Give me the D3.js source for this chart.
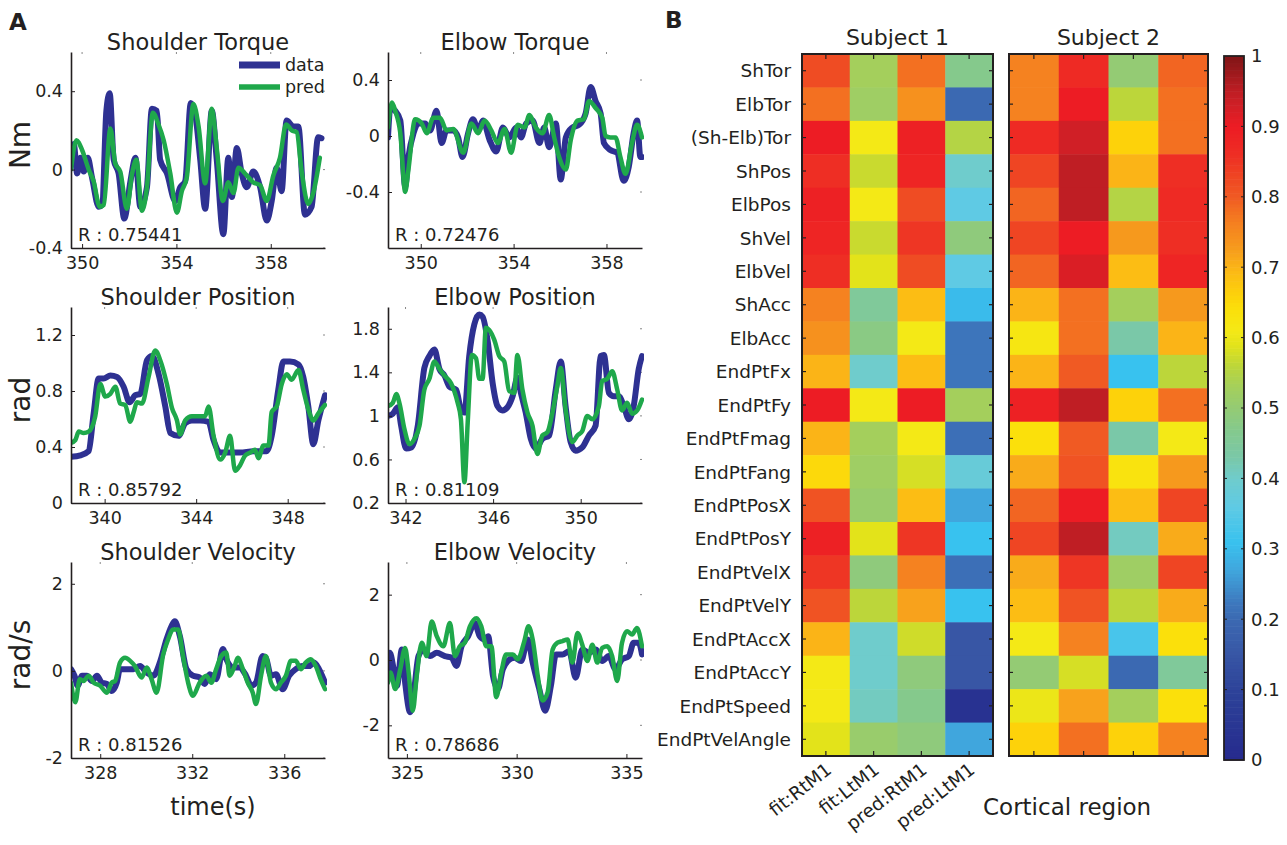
<!DOCTYPE html>
<html>
<head>
<meta charset="utf-8">
<script src="https://cdn.jsdelivr.net/npm/d3@7"></script>
<style>
  body { margin: 0; background: #fff; }
  text { font-family: 'DejaVu Sans', sans-serif; fill: #231f20; }
</style>
</head>
<body>
<div id="chart"></div>
<script>
// ---- panel A: time series ([time s, value]) ----
const shTorData = [[349.53,0.03],[349.65,0.13],[349.79,-0.02],[349.93,0.06],[350.07,-0.01],[350.24,0.06],[350.42,-0.04],[350.71,-0.19],[350.85,-0.18],[351.03,0.30],[351.17,0.39],[351.34,0.05],[351.55,-0.02],[351.79,-0.25],[352.05,-0.06],[352.26,0.06],[352.47,-0.19],[352.75,-0.09],[352.96,0.31],[353.17,0.30],[353.31,0.05],[353.6,-0.02],[353.95,-0.16],[354.16,-0.09],[354.37,-0.06],[354.61,0.34],[354.8,0.28],[355.01,0.05],[355.22,-0.2],[355.5,0.30],[355.71,0.05],[355.99,-0.33],[356.2,0.06],[356.35,-0.14],[356.56,0.11],[356.77,-0.02],[356.98,-0.09],[357.26,-0.01],[357.55,-0.09],[357.83,-0.26],[358.04,-0.16],[358.25,0.01],[358.46,-0.11],[358.67,0.25],[358.96,0.22],[359.17,0.22],[359.45,-0.23],[359.73,-0.19],[360.01,0.165],[360.15,0.16]]
const shTorPred = [[349.53,0.0],[349.76,0.15],[350.0,0.1],[350.28,0.0],[350.49,-0.06],[350.75,-0.19],[350.92,-0.18],[351.2,0.21],[351.41,0.03],[351.62,-0.01],[351.9,-0.2],[352.12,-0.02],[352.3,0.05],[352.54,-0.21],[352.75,-0.09],[353.0,0.29],[353.24,0.23],[353.46,0.15],[353.74,-0.02],[354.02,-0.22],[354.23,-0.11],[354.44,-0.04],[354.72,0.335],[354.94,0.22],[355.22,-0.07],[355.5,0.31],[355.71,0.11],[355.97,-0.16],[356.2,-0.065],[356.42,-0.12],[356.63,0.01],[356.91,-0.02],[357.26,-0.065],[357.55,-0.08],[357.83,-0.16],[358.11,-0.03],[358.39,0.06],[358.65,0.23],[358.89,0.2],[359.1,0.19],[359.31,-0.01],[359.59,-0.175],[359.8,-0.12],[360.08,0.06]]

const elbTorData = [[348.59,-0.01],[348.69,0.2],[348.9,0.18],[349.12,0.11],[349.33,-0.36],[349.47,-0.15],[349.69,0.02],[349.9,0.09],[350.19,0.09],[350.4,0.04],[350.68,0.18],[350.9,-0.05],[351.11,0.04],[351.4,0.04],[351.61,-0.01],[351.8,-0.15],[352.04,0.02],[352.25,0.12],[352.47,0.04],[352.68,0.11],[352.97,-0.03],[353.25,-0.11],[353.54,0.06],[353.82,-0.01],[354.11,0.06],[354.32,-0.01],[354.54,0.09],[354.82,0.11],[355.11,-0.05],[355.32,0.06],[355.53,-0.08],[355.82,0.09],[356.03,-0.31],[356.25,-0.01],[356.53,0.06],[356.82,0.08],[357.1,0.16],[357.32,0.35],[357.53,0.25],[357.75,0.16],[357.89,-0.05],[358.17,-0.1],[358.46,-0.12],[358.74,-0.32],[358.96,-0.22],[359.17,0.02],[359.32,0.11],[359.46,-0.15],[359.53,-0.15]]
const elbTorPred = [[348.59,0.06],[348.76,0.24],[348.9,0.18],[349.12,0.02],[349.33,-0.4],[349.47,-0.24],[349.76,0.12],[350.04,0.09],[350.26,0.02],[350.54,0.13],[350.83,0.13],[351.11,0.04],[351.4,0.05],[351.83,-0.12],[352.18,0.09],[352.47,0.02],[352.75,0.11],[353.04,0.04],[353.32,-0.05],[353.61,0.05],[353.89,-0.12],[354.18,0.08],[354.47,0.06],[354.68,0.15],[354.96,0.06],[355.25,0.02],[355.53,0.15],[355.75,-0.01],[355.96,-0.15],[356.25,-0.24],[356.46,-0.03],[356.75,0.11],[357.03,0.12],[357.25,0.25],[357.53,0.2],[357.82,0.13],[357.96,0.0],[358.17,-0.01],[358.39,-0.01],[358.6,-0.15],[358.82,-0.27],[359.1,-0.05],[359.32,0.08],[359.53,-0.01]]

const shPosData = [[338.53,0.33],[338.94,0.34],[339.3,0.37],[339.52,0.64],[339.74,0.89],[339.96,0.89],[340.25,0.91],[340.54,0.9],[340.83,0.83],[341.09,0.72],[341.34,0.77],[341.56,0.78],[341.85,1.02],[342.07,1.05],[342.36,0.92],[342.65,0.69],[342.87,0.5],[343.23,0.48],[343.52,0.57],[343.81,0.59],[344.17,0.59],[344.54,0.58],[344.76,0.45],[345.05,0.36],[345.48,0.36],[345.92,0.36],[346.5,0.37],[347.08,0.37],[347.3,0.48],[347.59,0.81],[347.81,1.01],[348.1,1.01],[348.47,0.99],[348.68,0.9],[348.9,0.69],[349.12,0.42],[349.34,0.59],[349.63,0.77]]
const shPosPred = [[338.53,0.43],[338.72,0.45],[338.87,0.51],[339.08,0.5],[339.3,0.51],[339.59,0.62],[339.81,0.85],[340.03,0.76],[340.25,0.78],[340.47,0.83],[340.68,0.71],[340.9,0.7],[341.12,0.58],[341.27,0.65],[341.41,0.72],[341.63,0.71],[341.92,0.9],[342.21,1.09],[342.43,1.02],[342.72,0.85],[342.94,0.68],[343.16,0.59],[343.3,0.49],[343.52,0.59],[343.81,0.62],[344.1,0.62],[344.39,0.62],[344.54,0.69],[344.76,0.48],[345.05,0.31],[345.27,0.36],[345.48,0.48],[345.7,0.23],[345.92,0.27],[346.14,0.34],[346.36,0.36],[346.57,0.38],[346.72,0.32],[346.94,0.41],[347.16,0.41],[347.3,0.65],[347.52,0.69],[347.74,0.85],[347.96,0.92],[348.17,0.88],[348.47,0.95],[348.68,0.81],[348.9,0.67],[349.12,0.59],[349.34,0.64],[349.63,0.7]]

const elbPosData = [[341.2,1.0],[341.42,1.02],[341.65,1.08],[341.8,0.91],[342.03,0.7],[342.26,0.71],[342.56,0.91],[342.86,1.44],[343.09,1.55],[343.32,1.61],[343.55,1.43],[343.78,1.37],[344.0,1.27],[344.31,1.24],[344.53,1.06],[344.69,1.03],[344.91,1.55],[345.14,1.84],[345.37,1.93],[345.52,1.91],[345.75,1.69],[345.98,1.3],[346.2,1.09],[346.43,1.05],[346.66,1.08],[346.89,1.18],[347.11,1.35],[347.27,1.21],[347.49,1.03],[347.72,0.79],[347.95,0.7],[348.25,0.79],[348.56,0.82],[348.86,1.24],[349.09,1.5],[349.31,1.09],[349.54,0.76],[349.77,0.68],[350.07,0.71],[350.38,0.82],[350.68,0.91],[350.91,1.55],[351.06,1.56],[351.29,1.21],[351.51,1.18],[351.74,1.18],[351.97,1.09],[352.2,0.97],[352.42,1.09],[352.65,1.43],[352.8,1.55]]
const elbPosPred = [[341.2,1.09],[341.42,1.12],[341.58,1.2],[341.73,1.11],[341.95,0.88],[342.18,0.74],[342.41,0.79],[342.64,0.91],[342.86,1.24],[343.09,1.34],[343.32,1.5],[343.55,1.43],[343.78,1.37],[344.08,1.3],[344.38,1.12],[344.53,0.97],[344.69,0.39],[344.84,0.94],[345.03,1.56],[345.22,1.53],[345.37,1.34],[345.52,1.34],[345.67,1.81],[345.82,1.79],[346.05,1.7],[346.28,1.55],[346.51,1.5],[346.73,1.23],[346.96,1.21],[347.11,1.56],[347.34,1.24],[347.57,1.03],[347.8,0.91],[348.02,0.65],[348.25,0.82],[348.48,0.85],[348.71,1.03],[348.93,1.27],[349.09,1.44],[349.31,1.06],[349.62,0.76],[349.85,0.82],[350.07,0.86],[350.3,1.0],[350.53,0.97],[350.83,1.09],[350.98,1.32],[351.21,1.34],[351.44,1.41],[351.67,1.24],[351.89,1.05],[352.12,1.12],[352.35,1.02],[352.58,1.05],[352.8,1.15]]

const shVelData = [[326.73,0.04],[326.88,-0.11],[327.02,-0.34],[327.21,-0.11],[327.42,-0.11],[327.64,-0.23],[327.86,-0.11],[328.07,-0.27],[328.29,-0.3],[328.5,-0.46],[328.72,-0.27],[328.86,0.04],[329.15,0.04],[329.44,0.04],[329.73,0.11],[330.02,-0.04],[330.31,-0.11],[330.59,0.19],[330.88,0.72],[331.1,1.03],[331.24,1.14],[331.46,0.8],[331.75,0.04],[332.03,-0.11],[332.32,-0.15],[332.54,-0.3],[332.76,-0.08],[333.04,-0.19],[333.33,0.5],[333.48,0.27],[333.76,0.08],[334.05,0.08],[334.34,-0.11],[334.56,-0.34],[334.77,-0.27],[335.06,0.34],[335.2,0.3],[335.42,-0.11],[335.64,-0.08],[335.93,-0.42],[336.21,-0.11],[336.5,0.04],[336.79,0.11],[337.08,0.11],[337.29,0.19],[337.51,0.04],[337.77,-0.27]]
const shVelPred = [[326.73,-0.27],[326.92,-0.72],[327.11,-0.19],[327.28,-0.23],[327.5,-0.11],[327.71,-0.27],[328.0,-0.34],[328.29,-0.5],[328.5,-0.27],[328.65,-0.23],[328.86,0.19],[329.08,0.3],[329.3,0.23],[329.51,0.11],[329.8,-0.15],[330.02,0.08],[330.23,-0.19],[330.45,-0.5],[330.74,0.38],[330.95,0.72],[331.17,0.95],[331.39,0.95],[331.6,0.34],[331.82,-0.27],[332.03,-0.57],[332.32,-0.27],[332.61,-0.11],[332.83,-0.27],[333.04,0.04],[333.26,0.34],[333.48,0.42],[333.62,-0.11],[333.84,0.11],[333.98,0.3],[334.2,0.04],[334.41,-0.27],[334.63,-0.5],[334.77,-0.76],[334.99,-0.11],[335.2,0.34],[335.42,-0.27],[335.64,-0.42],[335.85,-0.27],[336.07,-0.11],[336.29,0.23],[336.5,0.23],[336.72,0.04],[336.93,0.19],[337.15,0.27],[337.37,0.11],[337.58,-0.19],[337.77,-0.42]]

const elbVelData = [[324.14,-0.59],[324.22,0.22],[324.4,-0.28],[324.55,-0.79],[324.77,0.32],[324.92,-0.69],[325.15,-1.6],[325.3,-1.09],[325.53,0.12],[325.75,0.32],[326.06,0.12],[326.36,0.22],[326.73,0.12],[327.04,0.07],[327.26,-0.18],[327.49,0.42],[327.79,0.73],[328.09,1.13],[328.32,0.73],[328.54,0.63],[328.7,0.73],[328.92,-0.48],[329.15,-0.89],[329.37,-0.28],[329.6,-0.03],[329.9,0.07],[330.2,-0.03],[330.51,0.63],[330.73,-0.08],[331.03,-0.89],[331.3,-1.55],[331.56,-0.79],[331.79,0.17],[332.09,0.17],[332.39,0.27],[332.69,-0.54],[332.99,0.32],[333.3,0.22],[333.6,0.32],[333.9,-0.03],[334.2,0.12],[334.5,-0.28],[334.8,0.02],[335.11,0.12],[335.33,0.53],[335.56,0.53],[335.71,0.17]]
const elbVelPred = [[324.14,-0.69],[324.25,-0.38],[324.47,-0.89],[324.7,-0.28],[324.92,0.37],[325.08,-0.38],[325.27,-1.55],[325.45,-0.48],[325.68,0.53],[325.9,0.12],[326.13,1.18],[326.36,0.73],[326.66,0.42],[326.96,1.13],[327.19,0.12],[327.41,0.42],[327.64,0.53],[327.87,1.03],[328.17,1.28],[328.39,1.03],[328.62,0.42],[328.85,0.42],[329.07,-1.14],[329.3,-0.38],[329.52,0.17],[329.83,0.17],[330.05,0.02],[330.35,0.58],[330.54,1.03],[330.73,0.63],[330.96,-0.48],[331.18,-1.24],[331.41,-0.99],[331.64,0.32],[331.86,0.53],[332.09,0.58],[332.32,0.63],[332.54,-0.08],[332.77,0.83],[332.99,0.47],[333.22,-0.03],[333.45,0.47],[333.67,-0.08],[333.9,0.37],[334.13,0.42],[334.35,0.12],[334.58,-0.64],[334.8,0.53],[335.03,0.88],[335.26,0.78],[335.48,0.98],[335.71,0.42]]

const panelTitles = ['Shoulder Torque', 'Elbow Torque', 'Shoulder Position', 'Elbow Position', 'Shoulder Velocity', 'Elbow Velocity']
const panelR = ['0.75441', '0.72476', '0.85792', '0.81109', '0.81526', '0.78686']
const panelXDomains = [[349.53, 360.3], [348.59, 359.53], [338.53, 349.63], [341.2, 352.8], [326.73, 337.77], [324.14, 335.71]]
const panelYDomains = [[-0.4, 0.6], [-0.8, 0.6], [0, 1.4], [0.2, 2.0], [-2, 2.5], [-3, 3]]
const panelXTicks = [[350, 354, 358], [350, 354, 358], [340, 344, 348], [342, 346, 350], [328, 332, 336], [325, 330, 335]]
const panelYTicks = [[-0.4, 0, 0.4], [-0.4, 0, 0.4], [0, 0.4, 0.8, 1.2], [0.2, 0.6, 1, 1.4, 1.8], [-2, 0, 2], [-2, 0, 2]]
const rowYLabels = ['Nm', 'rad', 'rad/s']
const seriesData = [shTorData, elbTorData, shPosData, elbPosData, shVelData, elbVelData]
const seriesPred = [shTorPred, elbTorPred, shPosPred, elbPosPred, shVelPred, elbVelPred]

// ---- panel B: correlation heatmap ----
const measures = ['ShTor', 'ElbTor', '(Sh-Elb)Tor', 'ShPos', 'ElbPos', 'ShVel', 'ElbVel', 'ShAcc', 'ElbAcc', 'EndPtFx', 'EndPtFy', 'EndPtFmag', 'EndPtFang', 'EndPtPosX', 'EndPtPosY', 'EndPtVelX', 'EndPtVelY', 'EndPtAccX', 'EndPtAccY', 'EndPtSpeed', 'EndPtVelAngle']
const regions = ['fit:RtM1', 'fit:LtM1', 'pred:RtM1', 'pred:LtM1']
const subject1 = [
  [0.82, 0.53, 0.78, 0.47], [0.78, 0.52, 0.74, 0.20], [0.90, 0.61, 0.89, 0.55], [0.86, 0.57, 0.88, 0.40],
  [0.89, 0.61, 0.82, 0.36], [0.88, 0.57, 0.85, 0.49], [0.86, 0.59, 0.82, 0.36], [0.76, 0.45, 0.69, 0.30],
  [0.74, 0.48, 0.61, 0.22], [0.70, 0.40, 0.69, 0.22], [0.90, 0.61, 0.90, 0.53], [0.70, 0.53, 0.61, 0.21],
  [0.65, 0.52, 0.58, 0.38], [0.81, 0.51, 0.69, 0.27], [0.89, 0.59, 0.85, 0.31], [0.85, 0.49, 0.76, 0.21],
  [0.81, 0.56, 0.72, 0.31], [0.70, 0.40, 0.575, 0.15], [0.61, 0.40, 0.49, 0.15], [0.61, 0.41, 0.47, 0.03],
  [0.59, 0.51, 0.49, 0.27]
]
const subject2 = [
  [0.76, 0.87, 0.50, 0.79], [0.76, 0.90, 0.56, 0.78], [0.87, 0.93, 0.66, 0.78], [0.83, 0.95, 0.70, 0.86],
  [0.79, 0.95, 0.55, 0.87], [0.83, 0.90, 0.73, 0.86], [0.79, 0.92, 0.69, 0.88], [0.70, 0.78, 0.53, 0.73],
  [0.62, 0.78, 0.43, 0.70], [0.70, 0.80, 0.31, 0.56], [0.89, 0.95, 0.66, 0.78], [0.64, 0.80, 0.43, 0.61],
  [0.71, 0.81, 0.63, 0.73], [0.79, 0.90, 0.69, 0.83], [0.83, 0.95, 0.41, 0.71], [0.71, 0.85, 0.52, 0.83],
  [0.69, 0.81, 0.56, 0.71], [0.61, 0.76, 0.33, 0.64], [0.50, 0.58, 0.20, 0.45], [0.60, 0.72, 0.53, 0.64],
  [0.66, 0.78, 0.66, 0.76]
]
const colorbarTicks = [0, 0.1, 0.2, 0.3, 0.4, 0.5, 0.6, 0.7, 0.8, 0.9, 1]

// colour map
const cmapStops = [0, 0.1, 0.15, 0.2, 0.22, 0.27, 0.31, 0.36, 0.4, 0.43, 0.47, 0.5, 0.53, 0.56, 0.59, 0.61, 0.64, 0.66, 0.69, 0.71, 0.73, 0.76, 0.78, 0.8, 0.83, 0.86, 0.9, 0.93, 0.95, 1]
const cmapColors = ['#262a8d', '#2d4399', '#3856a5', '#3b69b2', '#3d75bb', '#40a6dd', '#38c2ef', '#5fcae4', '#6fcccc', '#7ac8a8', '#85c98c', '#94cb74', '#a4cf5c', '#bcd63a', '#e3e31a', '#f4e916', '#fbe00b', '#fdd20a', '#fcbd14', '#f9ab1a', '#f6991d', '#f58220', '#f37021', '#f05a23', '#ef4523', '#ee2e24', '#ed1c24', '#d01f26', '#bf1e24', '#7f1416']

const width = 1287
const height = 845
const ink = '#231f20'
const blue = '#2e3192'
const green = '#1fa84b'

const svg = d3.select('#chart').append('svg')
  .attr('width', width)
  .attr('height', height)

const color = d3.scaleLinear().domain(cmapStops).range(cmapColors).clamp(true)

// panel letters
svg.append('text').attr('x', 9).attr('y', 30).attr('font-size', 23).attr('font-weight', 'bold').text('A')
svg.append('text').attr('x', 665).attr('y', 28).attr('font-size', 23).attr('font-weight', 'bold').text('B')

// ---------- panel A ----------
const colLeft = [71, 388]
const rowTop = [52, 307, 562]
const pw = 254
const ph = 196

const line = (x, y) => d3.line().x(d => x(d[0])).y(d => y(d[1])).curve(d3.curveMonotoneX)

panelTitles.forEach((title, i) => {
  const left = colLeft[i % 2]
  const top = rowTop[Math.floor(i / 2)]
  const x = d3.scaleLinear().domain(panelXDomains[i]).range([left, left + pw])
  const y = d3.scaleLinear().domain(panelYDomains[i]).range([top + ph, top])
  const g = svg.append('g')

  g.append('clipPath').attr('id', 'clip' + i)
    .append('rect').attr('x', left).attr('y', top - 4).attr('width', pw + 2).attr('height', ph + 4)

  // faint box ticks on the right and top
  panelYTicks[i].forEach(t => {
    g.append('line').attr('x1', left + pw - 2).attr('x2', left + pw).attr('y1', y(t)).attr('y2', y(t))
      .attr('stroke', '#888').attr('stroke-width', 1)
  })
  panelXTicks[i].forEach(t => {
    g.append('line').attr('x1', x(t)).attr('x2', x(t)).attr('y1', top).attr('y2', top + 2)
      .attr('stroke', '#888').attr('stroke-width', 1)
  })

  const lines = g.append('g').attr('clip-path', `url(#clip${i})`)
  lines.append('path').datum(seriesData[i])
    .attr('d', line(x, y))
    .attr('fill', 'none').attr('stroke', blue).attr('stroke-width', 6)
    .attr('stroke-linejoin', 'round').attr('stroke-linecap', 'round')
  lines.append('path').datum(seriesPred[i])
    .attr('d', line(x, y))
    .attr('fill', 'none').attr('stroke', green).attr('stroke-width', 4.5)
    .attr('stroke-linejoin', 'round').attr('stroke-linecap', 'round')

  const yAxis = g.append('g')
    .attr('transform', `translate(${left},0)`)
    .call(d3.axisLeft(y).tickValues(panelYTicks[i]).tickFormat(d => String(d)).tickSizeInner(-4).tickSizeOuter(0).tickPadding(8))
  const xAxis = g.append('g')
    .attr('transform', `translate(0,${top + ph})`)
    .call(d3.axisBottom(x).tickValues(panelXTicks[i]).tickFormat(d => String(d)).tickSizeInner(-4).tickSizeOuter(0).tickPadding(9))
  ;[yAxis, xAxis].forEach(a => {
    a.selectAll('.domain').attr('stroke', ink).attr('stroke-width', 1.6)
    a.selectAll('.tick line').attr('stroke', ink)
    a.selectAll('.tick text').attr('font-family', "'DejaVu Sans', sans-serif").attr('font-size', 17.5).attr('fill', ink)
  })

  g.append('text')
    .attr('x', left + pw / 2).attr('y', top - 2)
    .attr('text-anchor', 'middle').attr('font-size', 22.5)
    .text(title)

  g.append('text')
    .attr('x', left + 7).attr('y', top + ph - 7)
    .attr('font-size', 18)
    .text('R : ' + panelR[i])

  if (i % 2 === 0) {
    g.append('text')
      .attr('transform', `translate(${left - 41},${top + ph / 2 - 5}) rotate(-90)`)
      .attr('text-anchor', 'middle').attr('font-size', 28)
      .text(rowYLabels[i / 2])
  }
})

// legend in the first panel
const legendItems = [['data', blue, 6], ['pred', green, 4.5]]
legendItems.forEach((d, k) => {
  const ly = 65 + k * 22
  svg.append('line').attr('x1', 239).attr('x2', 280).attr('y1', ly).attr('y2', ly)
    .attr('stroke', d[1]).attr('stroke-width', d[2] + 1)
  svg.append('text').attr('x', 285).attr('y', ly + 6).attr('font-size', 17.5).text(d[0])
})

svg.append('text')
  .attr('x', colLeft[0] + pw / 2 + 15).attr('y', 815)
  .attr('text-anchor', 'middle').attr('font-size', 24)
  .text('time(s)')

// ---------- panel B ----------
const hmTop = 54
const hmBottom = 756
const subjects = [
  { name: 'Subject 1', values: subject1, x0: 802, x1: 993, labels: true },
  { name: 'Subject 2', values: subject2, x0: 1009, x1: 1208, labels: false }
]

const rowScale = d3.scaleBand().domain(measures).range([hmTop, hmBottom])

subjects.forEach(s => {
  const colScale = d3.scaleBand().domain(regions).range([s.x0, s.x1])
  const g = svg.append('g')

  measures.forEach((m, r) => {
    g.selectAll(null)
      .data(s.values[r])
      .enter().append('rect')
      .attr('x', (d, c) => colScale(regions[c]))
      .attr('y', rowScale(m))
      .attr('width', colScale.bandwidth() + 0.5)
      .attr('height', rowScale.bandwidth() + 0.5)
      .attr('fill', d => color(d))
  })

  // inward ticks
  regions.forEach(rg => {
    const cx = colScale(rg) + colScale.bandwidth() / 2
    g.append('line').attr('x1', cx).attr('x2', cx).attr('y1', hmTop).attr('y2', hmTop + 5).attr('stroke', ink).attr('stroke-width', 1.2)
    g.append('line').attr('x1', cx).attr('x2', cx).attr('y1', hmBottom).attr('y2', hmBottom - 5).attr('stroke', ink).attr('stroke-width', 1.2)
  })
  measures.forEach(m => {
    const cy = rowScale(m) + rowScale.bandwidth() / 2
    g.append('line').attr('x1', s.x0).attr('x2', s.x0 + 4).attr('y1', cy).attr('y2', cy).attr('stroke', ink).attr('stroke-width', 1.2)
    g.append('line').attr('x1', s.x1).attr('x2', s.x1 - 4).attr('y1', cy).attr('y2', cy).attr('stroke', ink).attr('stroke-width', 1.2)
  })

  g.append('rect')
    .attr('x', s.x0).attr('y', hmTop).attr('width', s.x1 - s.x0).attr('height', hmBottom - hmTop)
    .attr('fill', 'none').attr('stroke', ink).attr('stroke-width', 2)

  g.append('text')
    .attr('x', (s.x0 + s.x1) / 2).attr('y', 45)
    .attr('text-anchor', 'middle').attr('font-size', 22)
    .text(s.name)

  if (s.labels) {
    measures.forEach(m => {
      g.append('text')
        .attr('x', s.x0 - 11).attr('y', rowScale(m) + rowScale.bandwidth() / 2)
        .attr('dy', '0.36em')
        .attr('text-anchor', 'end').attr('font-size', 18.5)
        .text(m)
    })
    regions.forEach(rg => {
      const cx = colScale(rg) + colScale.bandwidth() / 2
      g.append('text')
        .attr('transform', `translate(${cx + 7},${hmBottom + 16}) rotate(-38)`)
        .attr('text-anchor', 'end').attr('font-size', 18.5)
        .text(rg)
    })
  }
})

svg.append('text')
  .attr('x', 983).attr('y', 815)
  .attr('font-size', 23)
  .text('Cortical region')

// colour bar
const cbX0 = 1224
const cbX1 = 1244
const cbScale = d3.scaleLinear().domain([0, 1]).range([760, 56])
const cbSteps = d3.range(0, 1, 0.005)
svg.append('g').selectAll('rect')
  .data(cbSteps)
  .enter().append('rect')
  .attr('x', cbX0)
  .attr('y', d => cbScale(d + 0.005))
  .attr('width', cbX1 - cbX0)
  .attr('height', Math.abs(cbScale(0.005) - cbScale(0)) + 0.6)
  .attr('fill', d => color(d + 0.0025))
svg.append('rect')
  .attr('x', cbX0).attr('y', cbScale(1)).attr('width', cbX1 - cbX0).attr('height', cbScale(0) - cbScale(1))
  .attr('fill', 'none').attr('stroke', ink).attr('stroke-width', 1.8)
colorbarTicks.forEach(t => {
  if (t > 0 && t < 1) {
    svg.append('line').attr('x1', cbX0).attr('x2', cbX0 + 3).attr('y1', cbScale(t)).attr('y2', cbScale(t)).attr('stroke', ink)
    svg.append('line').attr('x1', cbX1).attr('x2', cbX1 - 3).attr('y1', cbScale(t)).attr('y2', cbScale(t)).attr('stroke', ink)
  }
  svg.append('text')
    .attr('x', cbX1 + 7).attr('y', cbScale(t)).attr('dy', '0.36em')
    .attr('font-size', 18)
    .text(String(t))
})
</script>
</body>
</html>
